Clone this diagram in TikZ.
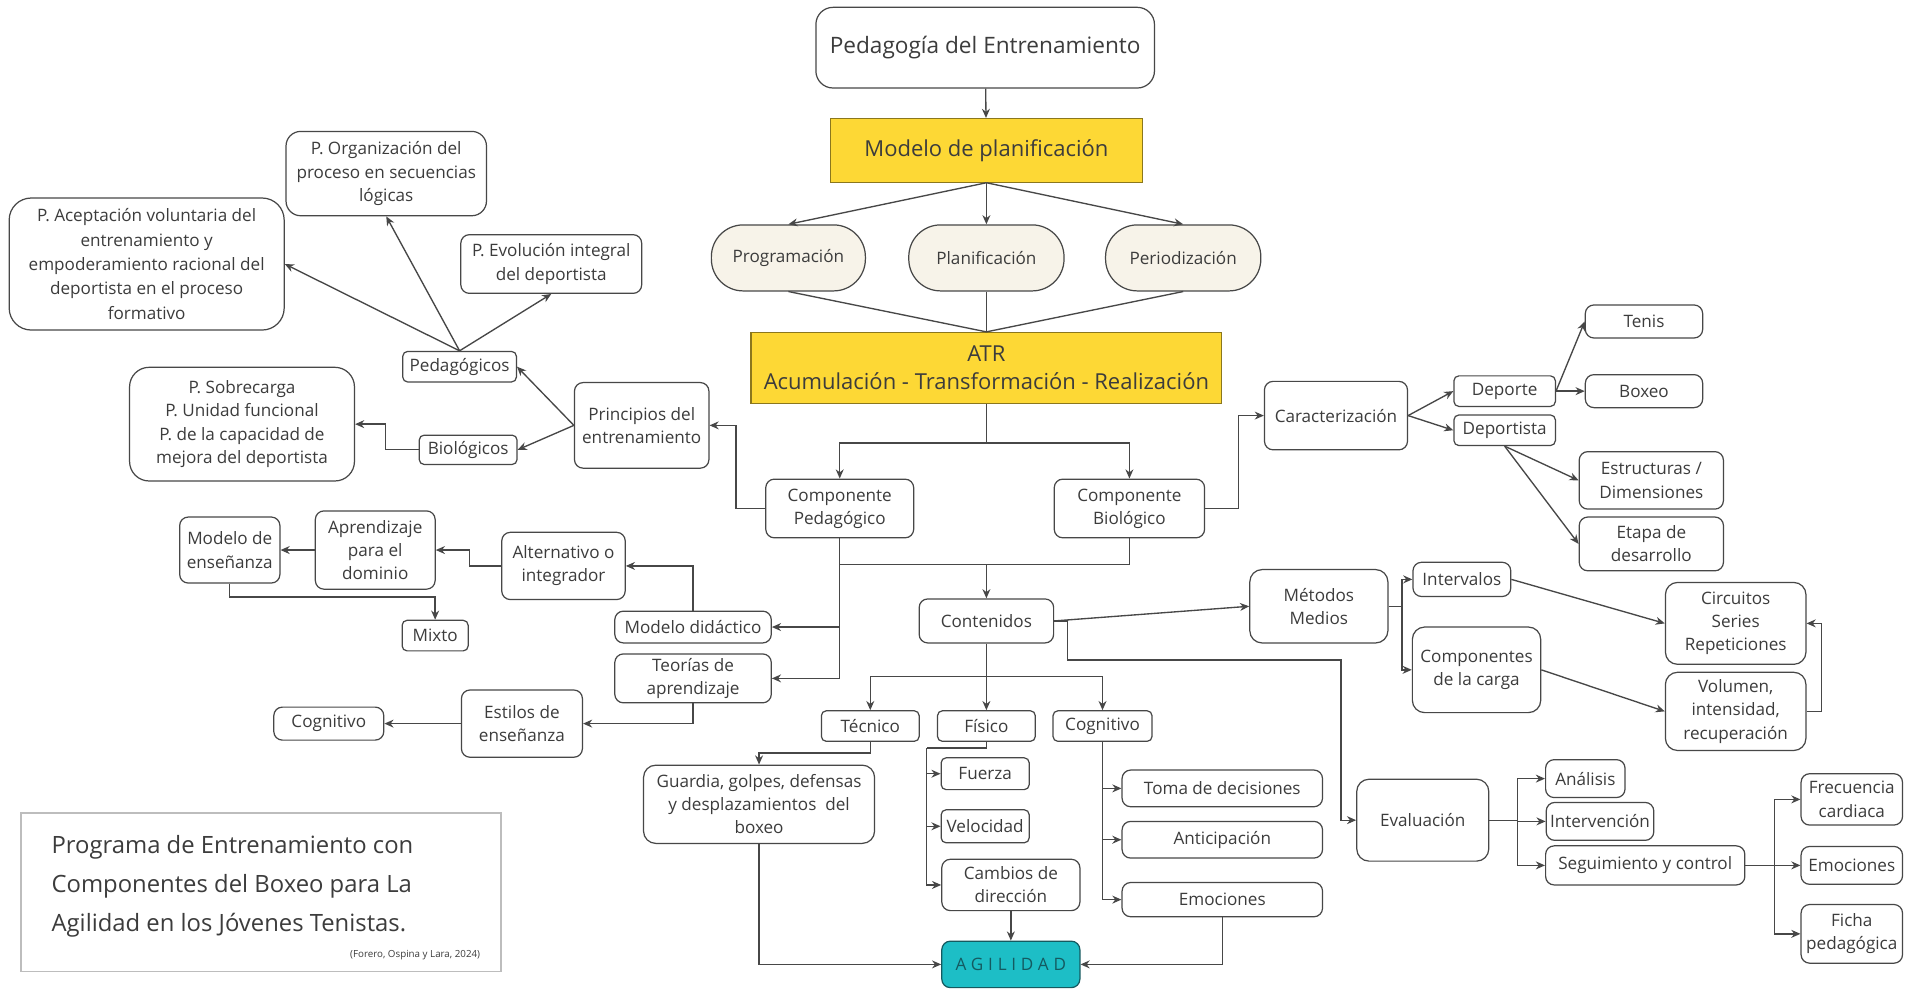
\documentclass[tikz,border=0pt]{standalone}
\usepackage{fontspec}
\setmainfont{Open Sans}
\newfontfamily\agilfont[LetterSpace=28]{Open Sans}
\usetikzlibrary{positioning,calc,arrows.meta}
\definecolor{gris}{HTML}{474747}
\definecolor{texto}{HTML}{3C3C3C}
\definecolor{amarillo}{HTML}{FDD835}
\definecolor{crema}{HTML}{F7F3E9}
\definecolor{turquesa}{HTML}{1DBEC6}
\definecolor{turqoscuro}{HTML}{145A60}
\definecolor{marco}{HTML}{BDBDBD}
\tikzset{
  caja/.style={draw=gris, line width=1pt, rounded corners=7pt, fill=white, text=texto, align=center, inner sep=1pt, font=\fontsize{14}{19}\selectfont},
  tam/.style 2 args={minimum width=#1pt, minimum height=#2pt},
  amar/.style={caja, sharp corners, fill=amarillo, draw=amarillo!55!black, font=\fontsize{18}{23}\selectfont},
  pildora/.style={caja, fill=crema, rounded corners=26pt},
  flecha/.style={draw=gris, line width=1.1pt, -{Stealth[length=7.5pt,width=6.5pt]}},
  trazo/.style={draw=gris, line width=1.1pt}
}
\begin{document}
\begin{tikzpicture}[x=1pt,y=-1pt]
\path[fill=white] (0,0) rectangle (1570,812);
\useasboundingbox (0,0) rectangle (1570,812);
\node[caja, tam={277}{66}, rounded corners=14pt, font=\fontsize{18.5}{24}\selectfont] (pedagogia) at (806,39) {Pedagogía del Entrenamiento};
\node[amar, tam={255}{52}] (modelo) at (807,123) {Modelo de planificación};
\node[pildora, tam={126}{54}] (programacion) at (645,211) {Programación};
\node[pildora, tam={127}{54}] (planificacion) at (807,211) {Planificación};
\node[pildora, tam={127}{54}] (periodizacion) at (968,211) {Periodización};
\node[amar, tam={385}{58}] (atr) at (807,301) {ATR\\Acumulación - Transformación - Realización};
\node[caja, tam={121}{48}] (comppedagogico) at (687,416) {Componente\\Pedagógico};
\node[caja, tam={123}{48}] (compbiologico) at (924,416) {Componente\\Biológico};
\node[caja, tam={110}{70}] (principios) at (525,348) {Principios del\\entrenamiento};
\node[caja, tam={93}{25}, rounded corners=4pt] (pedagogicos) at (376,300) {Pedagógicos};
\node[caja, tam={80}{24}, rounded corners=4pt] (biologicos) at (383,368) {Biológicos};
\node[caja, tam={184}{93}, rounded corners=16pt] (sobrecarga) at (198,347) {P. Sobrecarga\\P. Unidad funcional\\P. de la capacidad de\\mejora del deportista};
\node[caja, tam={225}{108}, rounded corners=18pt, font=\fontsize{14}{20}\selectfont] (aceptacion) at (120,216) {P. Aceptación voluntaria del\\entrenamiento y\\empoderamiento racional del\\deportista en el proceso\\formativo};
\node[caja, tam={164}{69}, rounded corners=12pt] (organizacion) at (316,142) {P. Organización del\\proceso en secuencias\\lógicas};
\node[caja, tam={148}{48}] (evolucion) at (451,216) {P. Evolución integral\\del deportista};
\node[caja, tam={110}{36}] (contenidos) at (807,508) {Contenidos};
\node[caja, tam={128}{26}] (modelodid) at (567,513) {Modelo didáctico};
\node[caja, tam={128}{40}] (teorias) at (567,555) {Teorías de\\aprendizaje};
\node[caja, tam={101}{55}] (alternativo) at (461,463) {Alternativo o\\integrador};
\node[caja, tam={98}{64}] (aprendizaje) at (307,450) {Aprendizaje\\para el\\dominio};
\node[caja, tam={82}{54}] (modeloens) at (188,450) {Modelo de\\enseñanza};
\node[caja, tam={54}{25}, rounded corners=4pt] (mixto) at (356,520) {Mixto};
\node[caja, tam={99}{55}] (estilos) at (427,592) {Estilos de\\enseñanza};
\node[caja, tam={90}{27}] (cognitivoizq) at (269,592) {Cognitivo};
\node[caja, tam={80}{25}, rounded corners=4pt] (tecnico) at (712,594) {Técnico};
\node[caja, tam={80}{25}, rounded corners=4pt] (fisico) at (807,594) {Físico};
\node[caja, tam={81}{25}, rounded corners=4pt] (cognitivo) at (902,594) {Cognitivo};
\node[caja, tam={189}{64}, rounded corners=10pt] (guardia) at (621,658) {Guardia, golpes, defensas\\y desplazamientos\ \ del\\boxeo};
\node[caja, tam={72}{26}, rounded corners=4pt] (fuerza) at (806,633) {Fuerza};
\node[caja, tam={72}{27}, rounded corners=4pt] (velocidad) at (806,676) {Velocidad};
\node[caja, tam={113}{42}] (cambios) at (827,724) {Cambios de\\dirección};
\node[caja, tam={164}{30}] (toma) at (1000,645) {Toma de decisiones};
\node[caja, tam={164}{30}] (anticipacion) at (1000,687) {Anticipación};
\node[caja, tam={164}{28}] (emocionescog) at (1000,736) {Emociones};
\node[caja, tam={113}{38}, fill=turquesa, draw=turqoscuro, text=turqoscuro, font=\agilfont\fontsize{14}{16}\selectfont] (agilidad) at (827,789) {AGILIDAD};
\node[caja, tam={117}{56}] (caracterizacion) at (1093,340) {Caracterización};
\node[caja, tam={83}{25}, rounded corners=4pt] (deporte) at (1231,320) {Deporte};
\node[caja, tam={83}{25}, rounded corners=4pt] (deportista) at (1231,352) {Deportista};
\node[caja, tam={96}{27}] (tenis) at (1345,263) {Tenis};
\node[caja, tam={96}{27}] (boxeo) at (1345,320) {Boxeo};
\node[caja, tam={118}{47}] (estructuras) at (1351,393) {Estructuras /\\Dimensiones};
\node[caja, tam={118}{44}] (etapa) at (1351,445) {Etapa de\\desarrollo};
\node[caja, tam={113}{60}, rounded corners=10pt] (metodos) at (1079,496) {Métodos\\Medios};
\node[caja, tam={80}{28}] (intervalos) at (1196,474) {Intervalos};
\node[caja, tam={105}{70}, rounded corners=10pt] (compcarga) at (1208,548) {Componentes\\de la carga};
\node[caja, tam={115}{67}, rounded corners=10pt] (circuitos) at (1420,510) {Circuitos\\Series\\Repeticiones};
\node[caja, tam={115}{64}, rounded corners=10pt] (volumen) at (1420,582) {Volumen,\\intensidad,\\recuperación};
\node[caja, tam={108}{67}, rounded corners=10pt] (evaluacion) at (1164,671) {Evaluación};
\node[caja, tam={65}{31}] (analisis) at (1297,637) {Análisis};
\node[caja, tam={88}{31}] (intervencion) at (1309,672) {Intervención};
\node[caja, tam={163}{32}] (seguimiento) at (1346,708) {Seguimiento y control};
\node[caja, tam={83}{42}] (frecuencia) at (1515,654) {Frecuencia\\cardiaca};
\node[caja, tam={83}{31}] (emocionesseg) at (1515,708) {Emociones};
\node[caja, tam={83}{48}] (ficha) at (1515,764) {Ficha\\pedagógica};
\node[draw=marco, line width=1.2pt, tam={393}{130}, inner sep=0pt] (recuadro) at (213.5,730) {};
\node[anchor=west, align=left, text=texto, font=\fontsize{19.5}{32}\selectfont, inner sep=0pt] (titulo) at (42,725) {Programa de Entrenamiento con\\Componentes del Boxeo para La\\Agilidad en los Jóvenes Tenistas.};
\node[anchor=east, text=texto, font=\fontsize{8}{10}\selectfont, inner sep=0pt] (cita) at (393,781) {(Forero, Ospina y Lara, 2024)};
\draw[flecha] (pedagogia) -- (modelo);
\foreach \n in {programacion,planificacion,periodizacion}
  \draw[flecha] (modelo.south) -- (\n.north);
\foreach \n in {programacion,planificacion,periodizacion}
  \draw[trazo] (\n.south) -- (atr.north);
\draw[trazo] (atr.south) -- ++(0,32) coordinate (bifatr);
\draw[flecha] (bifatr) -| (comppedagogico.north);
\draw[flecha] (bifatr) -| (compbiologico.north);
\draw[flecha] (comppedagogico.west) -- ++(-24,0) |- (principios.east);
\draw[flecha] (principios.west) -- (pedagogicos.east);
\draw[flecha] (principios.west) -- (biologicos.east);
\draw[flecha] (biologicos.west) -- ++(-27,0) |- (sobrecarga.east);
\draw[flecha] (pedagogicos.north) -- (aceptacion.east);
\draw[flecha] (pedagogicos.north) -- (organizacion.south);
\draw[flecha] (pedagogicos.north) -- (evolucion.south);
\coordinate (unioncomp) at (807,462);
\draw[trazo] (comppedagogico.south) |- (unioncomp);
\draw[trazo] (compbiologico.south) |- (unioncomp);
\draw[flecha] (unioncomp) -- (contenidos.north);
\draw[flecha] (comppedagogico.south) |- (modelodid.east);
\draw[flecha] (comppedagogico.south) |- (teorias.east);
\draw[flecha] (modelodid.north) |- (alternativo.east);
\draw[flecha] (alternativo.west) -- ++(-26,0) |- (aprendizaje.east);
\draw[flecha] (aprendizaje) -- (modeloens);
\draw[flecha] (modeloens.south) -- ++(0,11) -| (mixto.north);
\draw[flecha] (teorias.south) |- (estilos.east);
\draw[flecha] (estilos) -- (cognitivoizq);
\draw[trazo] (contenidos.south) -- ++(0,27) coordinate (bifcont);
\foreach \n in {tecnico,fisico,cognitivo}
  \draw[flecha] (bifcont) -| (\n.north);
\draw[flecha] (tecnico.south) -- ++(0,9) -| (guardia.north);
\coordinate (bajfis) at (758,612);
\draw[trazo] (fisico.south) |- (bajfis);
\foreach \n in {fuerza,velocidad,cambios}
  \draw[flecha] (bajfis) |- (\n.west);
\foreach \n in {toma,anticipacion,emocionescog}
  \draw[flecha] (cognitivo.south) |- (\n.west);
\draw[flecha] (guardia.south) |- (agilidad.west);
\draw[flecha] (cambios) -- (agilidad);
\draw[flecha] (emocionescog.south) |- (agilidad.east);
\draw[flecha] (contenidos.east) -- (metodos.west);
\coordinate (giroeval) at (1097,540);
\draw[flecha] (contenidos.east) -- ++(11,0) |- (giroeval) |- (evaluacion.west);
\draw[flecha] (metodos.east) -- ++(11,0) coordinate (bifmet) |- (intervalos.west);
\draw[flecha] (bifmet) |- (compcarga.west);
\draw[flecha] (intervalos.east) -- (circuitos.west);
\draw[flecha] (compcarga.east) -- (volumen.west);
\draw[flecha] (volumen.east) -- ++(12,0) |- (circuitos.east);
\draw[trazo] (evaluacion.east) -- ++(23,0) coordinate (bifeval);
\foreach \n in {analisis,intervencion,seguimiento}
  \draw[flecha] (bifeval) |- (\n.west);
\draw[trazo] (seguimiento.east) -- ++(24,0) coordinate (bifseg);
\foreach \n in {frecuencia,emocionesseg,ficha}
  \draw[flecha] (bifseg) |- (\n.west);
\draw[flecha] (compbiologico.east) -- ++(27,0) |- (caracterizacion.west);
\draw[flecha] (caracterizacion.east) -- (deporte.west);
\draw[flecha] (caracterizacion.east) -- (deportista.west);
\draw[flecha] (deporte.east) -- (tenis.west);
\draw[flecha] (deporte.east) -- (boxeo.west);
\draw[flecha] (deportista.south) -- (estructuras.west);
\draw[flecha] (deportista.south) -- (etapa.west);
\end{tikzpicture}
\end{document}
